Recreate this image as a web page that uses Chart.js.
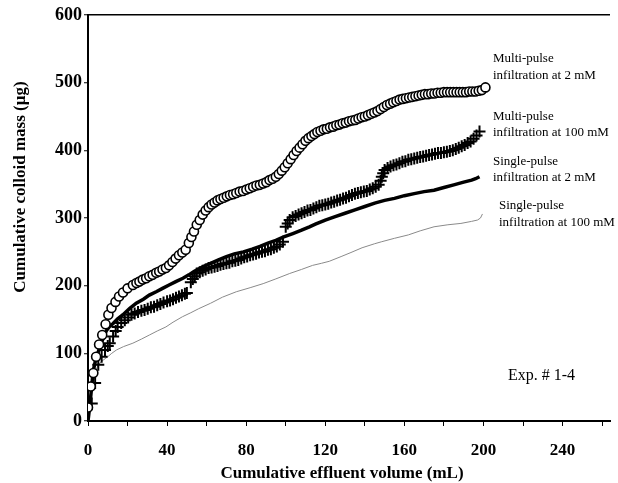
<!DOCTYPE html>
<html>
<head>
<meta charset="utf-8">
<script src="https://cdn.jsdelivr.net/npm/chart.js@4/dist/chart.umd.min.js"></script>
<style>
  html, body { margin: 0; padding: 0; background: #fff; }
  #wrap { width: 618px; height: 483px; }
</style>
</head>
<body>
<div id="wrap"><canvas id="colloidChart" width="618" height="483"></canvas></div>
<script>
// Multi-pulse infiltration at 2 mM (open circles)
const volMulti2 = [0, 1.4, 2.7, 4.1, 5.6, 7.2, 8.9, 10.3, 11.9, 13.9, 15.7, 17.7, 20, 22.7, 24.5, 26, 27.7, 29.4, 31, 32.7,
  34.5, 36, 37.7, 39.4, 41, 42.7, 44.3, 46, 47.7, 49.4, 51, 52.3, 53.6, 55, 56.5, 58, 59.5, 61, 62.5, 64,
  65.5, 67, 68.6, 70.2, 71.8, 73.4, 75, 76.7, 78.4, 80.1, 81.8, 83.5, 85.2, 86.9, 88.6, 90.2, 91.8, 93.4, 95, 96.5,
  98, 99.5, 101, 102.5, 104, 105.5, 107, 108.5, 110, 111.5, 113, 114.5, 116, 117.6, 119.2, 120.8, 122.4, 124, 125.6, 127.2,
  128.8, 130.4, 132, 133.6, 135.2, 136.8, 138.4, 140, 141.6, 143.2, 144.8, 146.4, 148, 149.6, 151.2, 152.8, 154.4, 156, 157.6, 159.2,
  160.8, 162.4, 164, 165.6, 167.2, 168.8, 170.4, 172, 173.6, 175.2, 176.8, 178.4, 180, 181.6, 183.2, 184.8, 186.4, 188, 189.6, 191.2,
  192.8, 194.4, 196, 197.6, 199.2, 201];
const massMulti2 = [20, 51, 71, 95, 113, 127, 143, 157, 167, 176, 184, 190, 196, 201, 204, 206, 209, 211, 214, 216,
  219, 221, 224, 226, 230, 235, 240, 245, 249, 253, 263, 272, 280, 290, 297, 305, 311, 316, 320, 323,
  326, 328, 330, 332, 334, 335, 337, 339, 340, 342, 344, 346, 348, 349, 351, 353, 356, 358, 361, 365,
  370, 375, 381, 387, 393, 399, 404, 409, 414, 418, 421, 424, 427, 429, 431, 432, 434, 435, 437, 438,
  440, 441, 443, 444, 445, 447, 449, 450, 452, 454, 456, 458, 461, 464, 467, 469, 471, 473, 475, 476,
  477, 478, 479, 480, 481, 482, 483, 483, 484, 484, 485, 485, 486, 486, 486, 486, 486, 486, 486, 486,
  487, 487, 487, 488, 489, 493];

// Multi-pulse infiltration at 100 mM (crosses)
const volMulti100 = [1.9, 3.6, 5.2, 6.9, 8.6, 10, 11, 12.7, 14, 15, 16.8, 18.6, 20.3, 22, 23.6, 25.3, 27, 28.6, 30.2, 31.8,
  33.4, 35, 36.6, 38.2, 40, 41.5, 43, 44.5, 46, 47.5, 49, 50,
  52, 53, 54, 55, 56.5, 58, 59.5, 61, 62.5, 64, 65.5, 67, 68.5, 70, 71.5, 73, 74.5, 76, 77.5, 79,
  80.5, 82, 83.5, 85, 86.5, 88, 89.5, 91, 92.5, 94, 95.5, 97, 98.6,
  100, 101, 102, 103.5, 105, 106.5, 108, 109.5, 111, 112.5, 114, 115.5, 117, 118.5, 120, 121.5, 123, 124.5, 126, 127.5,
  129, 130.5, 132, 133.5, 135, 136.5, 138, 139.5, 141, 142.5, 144, 145.5, 147, 148, 148.6, 149.3, 150, 151.5, 153, 154.5,
  156, 157.5, 159, 160.5, 162, 163.5, 165, 166.5, 168, 169.5, 171, 172.5, 174, 175.5, 177, 178.5, 180, 181.5, 183, 184.5,
  186, 187.5, 189, 190.5, 192, 193.5, 195, 196.5, 198];
const massMulti100 = [26, 56, 83, 95, 105, 111, 115, 125, 133, 139, 145, 149, 153, 157, 159, 161, 163, 164, 166, 168,
  169, 171, 173, 175, 177, 178, 180, 182, 184, 186, 188, 189,
  205, 210, 214, 218, 220, 222, 224, 226, 227, 228, 229, 231, 232, 233, 234, 236, 237, 238, 240, 242,
  243, 245, 246, 247, 249, 250, 251, 253, 254, 256, 258, 261, 265,
  287, 292, 297, 301, 303, 305, 307, 309, 311, 312, 314, 316, 318, 319, 320, 321, 323, 324, 326, 327,
  329, 330, 332, 334, 336, 337, 338, 339, 340, 342, 344, 346, 349, 355, 361, 366, 371, 374, 376, 378,
  379, 381, 383, 384, 386, 387, 388, 389, 390, 391, 392, 393, 394, 395, 396, 396, 397, 398, 399, 400,
  402, 404, 406, 408, 411, 413, 417, 422, 428];

// Single-pulse infiltration at 2 mM (thick line)
const volSingle2 = [0, 1, 2, 2.7, 4, 6.1, 8, 9.4, 11, 12.7, 15, 17.7, 21, 24.4, 28, 31, 34.5, 37.7, 41, 44.4,
  48, 51, 53.6, 58, 62, 66, 70, 74, 78.6, 83, 87, 91, 95, 99, 103.6, 108, 112, 115, 120, 125,
  130, 135, 140, 145, 150, 155, 160, 165, 170, 175, 180, 185, 190, 194, 196, 198];
const massSingle2 = [0, 25, 55, 75, 92, 110, 125, 134, 140, 144, 151, 157, 166, 174, 180, 186, 191, 196, 201, 206,
  211, 216, 221, 228, 233, 238, 243, 247, 250, 254, 258, 263, 267, 272, 277, 282, 287, 291, 297, 302,
  307, 312, 317, 322, 326, 329, 333, 336, 339, 341, 345, 349, 353, 356, 358, 361];

// Single-pulse infiltration at 100 mM (thin grey line)
const volSingle100 = [0, 1, 2, 3, 4, 5, 6.5, 7.7, 10, 12, 14.4, 18, 22.7, 27, 31, 35, 39.4, 43, 47.7, 52,
  56, 62, 68, 75, 82, 88.6, 95, 102, 108, 113.6, 118, 122, 128, 133, 138.6, 145, 148.6, 155, 162, 168,
  175, 182, 188.6, 194, 197, 198.5, 199.5];
const massSingle100 = [0, 25, 50, 65, 75, 82, 87, 90, 95, 100, 105, 110, 115, 121, 127, 133, 139, 146, 154, 160,
  166, 174, 183, 191, 197, 203, 210, 218, 224, 230, 233, 236, 243, 249, 256, 262, 265, 270, 275, 281,
  287, 290, 292, 295, 297, 300, 306];

const xTicks = [0, 40, 80, 120, 160, 200, 240];
const yTicks = [0, 100, 200, 300, 400, 500, 600];

const pts = (xs, ys) => xs.map((x, i) => ({ x, y: ys[i] }));
const serif = "'Liberation Serif', 'Times New Roman', serif";

// text annotations next to the curve ends + axis titles
const notes = {
  id: 'notes',
  afterDraw(chart) {
    const ctx = chart.ctx;
    ctx.save();
    ctx.fillStyle = '#000';
    ctx.textBaseline = 'middle';
    ctx.textAlign = 'left';
    ctx.font = `13px ${serif}`;
    const labels = [
      ['Multi-pulse', 493, 59], ['infiltration at 2 mM', 493, 76],
      ['Multi-pulse', 493, 117], ['infiltration at 100 mM', 493, 133],
      ['Single-pulse', 493, 162], ['infiltration at 2 mM', 493, 178],
      ['Single-pulse', 499, 206], ['infiltration at 100 mM', 499, 223]
    ];
    labels.forEach(([t, x, y]) => ctx.fillText(t, x, y));
    ctx.font = `16px ${serif}`;
    ctx.fillText('Exp. # 1-4', 508, 376);

    ctx.font = `bold 17px ${serif}`;
    ctx.textAlign = 'center';
    ctx.fillText('Cumulative effluent volume (mL)', 342, 474);
    ctx.translate(21, 187);
    ctx.rotate(-Math.PI / 2);
    ctx.fillText('Cumulative colloid mass (\u00b5g)', 0, 0);
    ctx.restore();
  }
};

new Chart(document.getElementById('colloidChart'), {
  type: 'scatter',
  data: {
    datasets: [
      {
        label: 'Multi-pulse infiltration at 2 mM',
        data: pts(volMulti2, massMulti2),
        showLine: false,
        pointStyle: 'circle',
        pointRadius: 4.5,
        pointBorderWidth: 1.6,
        pointBorderColor: '#000',
        pointBackgroundColor: '#fff',
        order: 1
      },
      {
        label: 'Single-pulse infiltration at 2 mM',
        data: pts(volSingle2, massSingle2),
        showLine: true,
        borderColor: '#000',
        borderWidth: 3.5,
        pointRadius: 0,
        tension: 0,
        order: 2
      },
      {
        label: 'Multi-pulse infiltration at 100 mM',
        data: pts(volMulti100, massMulti100),
        showLine: false,
        pointStyle: 'cross',
        pointRadius: 6,
        pointBorderWidth: 2,
        pointBorderColor: '#000',
        order: 3
      },
      {
        label: 'Single-pulse infiltration at 100 mM',
        data: pts(volSingle100, massSingle100),
        showLine: true,
        borderColor: '#8a8a8a',
        borderWidth: 1,
        pointRadius: 0,
        tension: 0,
        order: 4
      }
    ]
  },
  options: {
    responsive: false,
    animation: false,
    devicePixelRatio: 1,
    layout: { padding: { top: 15, right: 1, left: 0, bottom: 0 } },
    plugins: {
      legend: { display: false },
      tooltip: { enabled: false }
    },
    scales: {
      x: {
        type: 'linear',
        min: 0,
        max: 264,
        afterFit: s => { s.height = 62; },
        border: { display: true, color: '#000', width: 2 },
        grid: { drawOnChartArea: false, drawTicks: true, tickLength: 5, tickColor: '#000', tickWidth: 1 },
        ticks: {
          stepSize: 20,
          includeBounds: false,
          autoSkip: false,
          maxRotation: 0,
          padding: 14,
          color: '#000',
          font: { family: serif, size: 17, weight: 'bold' },
          callback: v => xTicks.includes(v) ? String(v) : ''
        }
      },
      y: {
        type: 'linear',
        min: 0,
        max: 600,
        afterFit: s => { s.width = 88; },
        border: { display: true, color: '#000', width: 2 },
        grid: {
          drawOnChartArea: true,
          color: c => (c.tick && c.tick.value === 600) ? '#000' : 'rgba(0,0,0,0)',
          lineWidth: 1.5,
          drawTicks: true,
          tickLength: 4,
          tickColor: '#000',
          tickWidth: 1
        },
        ticks: {
          stepSize: 100,
          padding: 2,
          color: '#000',
          font: { family: serif, size: 18, weight: 'bold' },
          callback: v => yTicks.includes(v) ? String(v) : ''
        }
      }
    }
  },
  plugins: [notes]
});
</script>
</body>
</html>
